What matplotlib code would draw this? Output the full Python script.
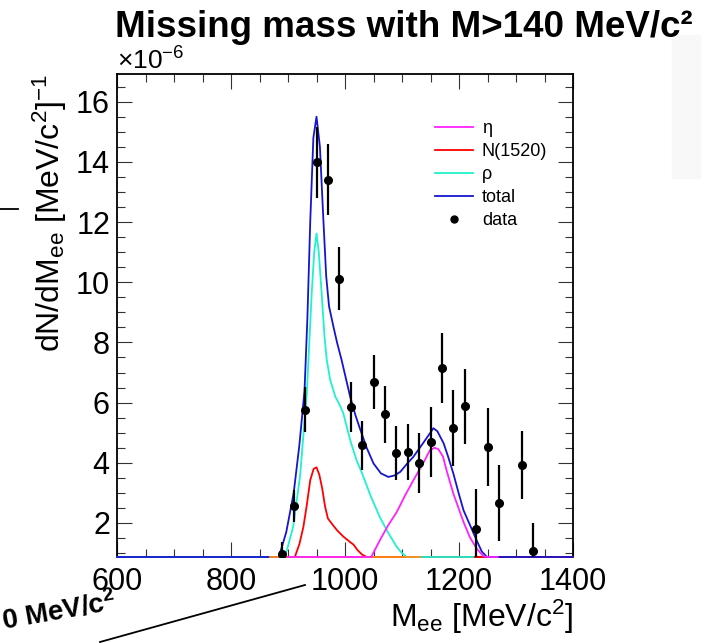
import numpy as np
import matplotlib
matplotlib.use("Agg")
import matplotlib.pyplot as plt
from matplotlib import ticker
from matplotlib.lines import Line2D
from matplotlib.patches import Rectangle

plt.rcParams['font.family'] = ['Liberation Sans', 'DejaVu Sans']
plt.rcParams['mathtext.fontset'] = 'custom'
plt.rcParams['mathtext.rm'] = 'Liberation Sans'
plt.rcParams['mathtext.it'] = 'Liberation Sans:italic'
plt.rcParams['mathtext.bf'] = 'Liberation Sans:bold'

# data points (values in units of 1e-6)
mee = [890, 910, 930, 950, 970, 990, 1010, 1030, 1050, 1070, 1090,
       1110, 1130, 1150, 1170, 1190, 1210, 1230, 1250, 1270, 1310, 1330]
dn = [0.98, 2.57, 5.76, 13.98, 13.4, 10.12, 5.86, 4.58, 6.68, 5.61, 4.33,
      4.36, 4.0, 4.69, 7.16, 5.16, 5.88, 1.79, 4.52, 2.67, 3.92, 1.07]
dn_err = [0.4, 0.53, 0.75, 1.17, 1.18, 1.05, 0.82, 0.82, 0.9, 0.94, 0.89,
          0.92, 1.0, 1.17, 1.16, 1.25, 1.25, 1.33, 1.3, 1.27, 1.13, 0.93]

# fitted components
rho_m = [600, 880, 892, 898, 909, 921, 933, 941.6, 946, 950, 954, 959, 964,
         968, 974, 983, 990, 997, 1003, 1010, 1020, 1030, 1045, 1061, 1075,
         1091, 1100, 1108, 1120, 1140, 1160, 1225]
rho_y = [0, 0, 0.87, 1.09, 1.87, 3.53, 6.3, 9.64, 11.0, 11.62, 11.0, 9.64, 8.2,
         7.42, 6.76, 6.2, 5.95, 5.65, 5.2, 4.7, 4.1, 3.65, 2.9, 2.2, 1.7,
         1.2, 1.0, 0.87, 0.6, 0.2, 0, 0]

n1520_m = [600, 905, 912, 920, 927, 933, 939, 945, 950, 955, 960, 965, 970,
           978, 986, 997, 1008, 1015, 1022, 1030, 1038, 1045, 1060, 1100, 1400]
n1520_y = [0, 0, 0.87, 1.3, 1.87, 2.6, 3.42, 3.8, 3.85, 3.6, 3.15, 2.55, 2.15,
           1.95, 1.76, 1.55, 1.38, 1.28, 1.1, 0.95, 0.8, 0.6, 0.3, 0, 0]

eta_m = [900, 1030, 1046, 1061, 1075, 1091, 1105, 1120, 1137, 1149, 1157,
         1164, 1172, 1178, 1190, 1208, 1219, 1231, 1243, 1250, 1268]
eta_y = [0, 0, 0.87, 1.42, 1.9, 2.37, 2.9, 3.42, 3.98, 4.42, 4.5,
         4.45, 4.2, 3.76, 2.98, 2.03, 1.53, 1.15, 0.89, 0.7, 0.3]

tot_m = [600, 870, 884, 897, 910, 920, 929, 934, 939, 944.5, 950, 956, 962,
         967, 972, 980, 986, 994, 1001, 1009, 1018, 1026, 1038, 1050, 1063,
         1076, 1087, 1097, 1108, 1120, 1135, 1149, 1155, 1162, 1173, 1181,
         1190, 1200, 1208, 1220, 1231, 1240, 1249, 1260, 1270, 1400]
tot_y = [0, 0, 0.87, 1.7, 3.0, 4.6, 6.4, 8.8, 12.0, 14.8, 15.5, 14.5, 12.1,
         10.2, 9.2, 8.5, 8.0, 7.42, 6.85, 6.2, 5.6, 5.15, 4.5, 3.98, 3.65,
         3.53, 3.58, 3.7, 3.95, 4.2, 4.6, 4.98, 5.15, 5.05, 4.65, 4.2,
         3.65, 2.95, 2.42, 1.9, 1.42, 1.05, 0.87, 0.5, 0, 0]

# extra (empty) function drawn in orange, not in legend
bkg_m = [868, 1131]
bkg_y = [0, 0]

scale = 1e-6
ymin, ymax = 0.87, 16.92

fig = plt.figure(figsize=(7.04, 6.43), dpi=100)
ax = fig.add_axes([117/704, 86/643, 456/704, 483/643])

def curve(m, y, color):
    yy = np.maximum(np.array(y), ymin) * scale
    ax.plot(m, yy, color=color, lw=1.3, clip_on=False, zorder=3)

curve(n1520_m, n1520_y, '#ff0000')
curve(rho_m, rho_y, '#1ef2cf')
curve(tot_m, tot_y, '#1515d0')
curve(bkg_m, bkg_y, '#ff8c1a')
curve(eta_m, eta_y, '#ff22ff')

ax.errorbar(mee, np.array(dn) * scale, yerr=np.array(dn_err) * scale,
            fmt='o', color='black', ms=5.5, elinewidth=1.6, capsize=0, zorder=4)

ax.set_xlim(600, 1400)
ax.set_ylim(ymin * scale, ymax * scale)
ax.xaxis.set_major_locator(ticker.MultipleLocator(200))
ax.xaxis.set_minor_locator(ticker.MultipleLocator(50))
ax.yaxis.set_major_locator(ticker.MultipleLocator(2e-6))
ax.yaxis.set_minor_locator(ticker.MultipleLocator(0.5e-6))
fmt = ticker.ScalarFormatter(useMathText=True)
fmt.set_powerlimits((-6, -6))
ax.yaxis.set_major_formatter(fmt)
ax.yaxis.get_offset_text().set_fontsize(19)

ax.tick_params(which='both', direction='in', top=True, right=True,
               width=0.8, color='#333333')
ax.tick_params(which='major', length=11, labelsize=22)
ax.tick_params(which='minor', length=5.5)
ax.tick_params(axis='x', pad=7)
ax.tick_params(axis='y', pad=5)
for s in ax.spines.values():
    s.set_linewidth(1.3)

ax.set_xlabel(r'M$_{\rm ee}$ [MeV/c$^{2}$]', fontsize=23, loc='right',
              labelpad=1)
ax.set_ylabel(r'dN/dM$_{\rm ee}$ [MeV/c$^{2}$]$^{-1}$', fontsize=23, loc='top',
              labelpad=4)

handles = [Line2D([], [], color='#ff22ff', lw=1.3),
           Line2D([], [], color='#ff0000', lw=1.3),
           Line2D([], [], color='#1ef2cf', lw=1.3),
           Line2D([], [], color='#1515d0', lw=1.3),
           Line2D([], [], color='black', marker='o', ms=5, ls='none')]
labels = ['η', 'N(1520)', 'ρ', 'total', 'data']
ax.legend(handles, labels, loc='upper left', bbox_to_anchor=(0.697, 0.905),
          frameon=False, fontsize=13, handlelength=2.1, handletextpad=0.5,
          labelspacing=0.34, borderpad=0, borderaxespad=0)

fig.text(0.573, 0.942, 'Missing mass with M>140 MeV/c²', fontsize=26.5,
         fontweight='bold', ha='center', va='baseline')

# bits of a neighbouring canvas showing at the edges
fig.text(3/704, 1 - 630/643, r'0 MeV/c$^{\mathbf{2}}$', fontsize=20,
         fontweight='bold', rotation=10, rotation_mode='anchor',
         ha='left', va='baseline')
fig.add_artist(Line2D([100/704, 305/704], [1 - 642/643, 1 - 585/643],
                      color='black', lw=1.3))
fig.add_artist(Line2D([0, 18/704], [1 - 209/643, 1 - 209/643],
                      color='black', lw=1.3))
fig.add_artist(Rectangle((672/704, 1 - 178/643), 28/704, 143/643,
                         color='#f8f8f8', zorder=0))

fig.savefig('out.png', dpi=100)
